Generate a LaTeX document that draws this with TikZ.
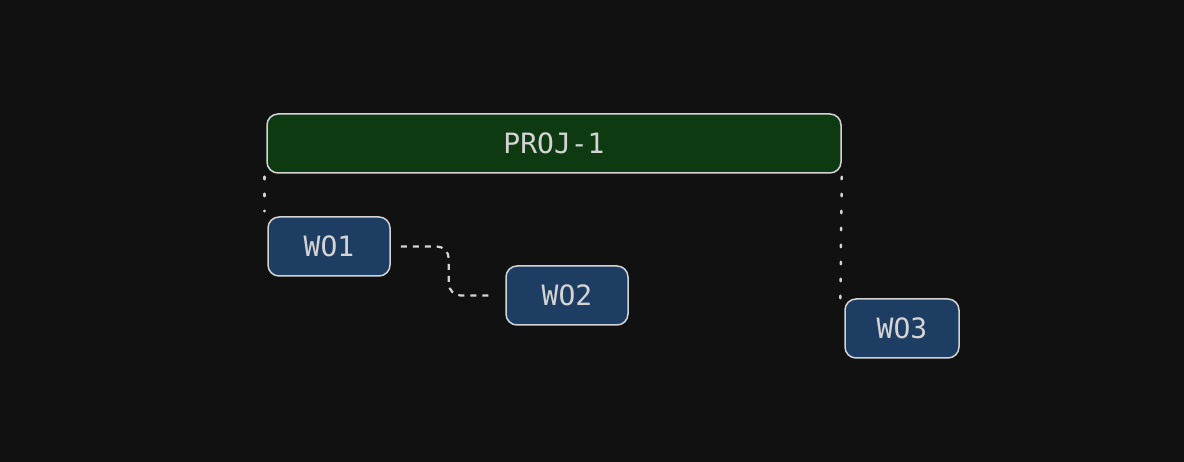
\documentclass[tikz,border=0pt]{standalone}
\usepackage{fontspec}
\setmonofont{DejaVu Sans Mono}
\usepackage{xcolor}
\usepackage{tikz}

\definecolor{bgdark}{HTML}{111111}
\definecolor{projgreen}{HTML}{0E3A12}
\definecolor{wonavy}{HTML}{1E3D62}
\definecolor{edgegray}{HTML}{D4D4D4}

\begin{document}
\begin{tikzpicture}[x=1pt, y=-1pt,
    box/.style={draw=edgegray, line width=1.5pt, rounded corners=11pt,
        inner sep=0pt, minimum height=59pt, text=edgegray,
        font=\ttfamily\fontsize{28}{28}\selectfont},
    projbox/.style={box, fill=projgreen, minimum width=574pt},
    wobox/.style={box, fill=wonavy, minimum width=122pt},
    dotline/.style={edgegray, line width=2.5pt, line cap=round,
        dash pattern=on 2.5pt off 14.5pt},
    dashline/.style={edgegray, line width=2.2pt, dash pattern=on 6pt off 6pt,
        rounded corners=12pt}]

    % Background
    \fill[bgdark] (0,0) rectangle (1184,462);
    \useasboundingbox (0,0) rectangle (1184,462);

    % Project bar
    \node[projbox] (proj) at (554,143.5) {PROJ-1};

    % Work orders
    \node[wobox] (wo1) at (329,246.5) {WO1};
    \node[wobox] (wo2) at (567,295.5) {WO2};
    \node[wobox, minimum width=114pt] (wo3) at (902,328.5) {WO3};

    % Links
    \draw[dotline] ([xshift=-2pt, yshift=-3pt]proj.south west)
        -- ([xshift=-3pt, yshift=5pt]wo1.north west);
    \draw[dotline] ([yshift=-3pt]proj.south east)
        -- ([xshift=-4pt, yshift=-12pt]wo3.north west);
    \draw[dashline] ([xshift=10pt]wo1.east) -- ++(48,0)
        |- ([xshift=-14pt]wo2.west);

\end{tikzpicture}
\end{document}
